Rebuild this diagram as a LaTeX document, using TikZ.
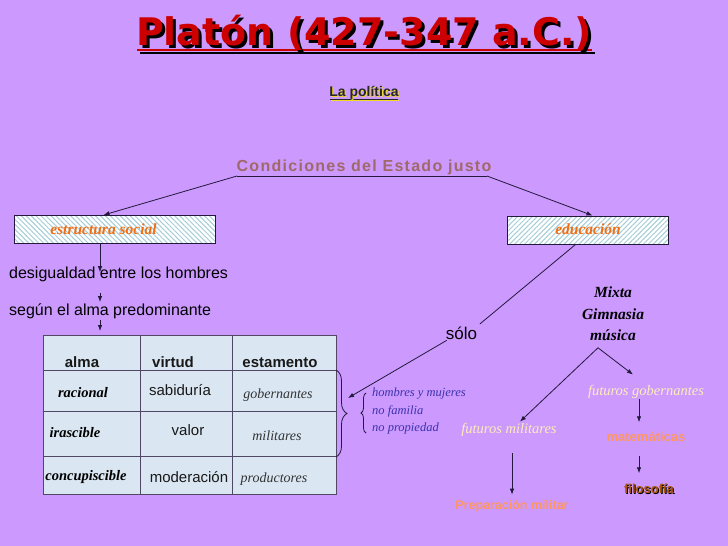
\documentclass[tikz,border=0pt]{standalone}
\usepackage{fontspec}
\setmainfont{Liberation Serif}
\setsansfont{Liberation Sans}
\newfontfamily\titlefont{DejaVu Sans}
\newfontfamily\spacedfont[LetterSpace=8]{Liberation Sans}
\usepackage{tikz}
\usetikzlibrary{arrows.meta,positioning,patterns.meta,decorations.pathreplacing,calc}
\usepackage{xcolor}
\definecolor{fondo}{RGB}{204,153,255}
\definecolor{rojo}{RGB}{204,0,0}
\definecolor{condic}{RGB}{160,105,105}
\definecolor{naranja}{RGB}{240,110,20}
\definecolor{azulosc}{RGB}{60,50,170}
\definecolor{crema}{RGB}{255,236,185}
\definecolor{salmon}{RGB}{255,150,95}
\definecolor{marron}{RGB}{175,85,10}
\definecolor{celda}{RGB}{218,230,242}
\definecolor{rayado}{RGB}{165,205,215}
\definecolor{borde}{RGB}{35,25,60}
\definecolor{amarillo}{RGB}{240,220,40}
\newcommand{\sz}[2][1.2]{\fontsize{#2}{#1\dimexpr #2pt\relax}\selectfont}
% texto con sombra desplazada
\newcommand{\sombreado}[3]{\makebox[0pt][l]{\kern#2\raisebox{-#2}{\color{#1}#3}}#3}

\begin{document}
\begin{tikzpicture}[x=1pt,y=-1pt,
txt/.style={inner sep=1pt,anchor=base},
caja/.style={rectangle,draw=borde,line width=0.8pt,minimum height=28pt,preaction={fill=white},pattern color=rayado},
arr/.style={-{Latex[length=6pt,width=4.5pt]},line width=0.8pt,draw=borde},
linea/.style={line width=0.8pt,draw=borde},
cab/.style={txt,font=\sffamily\bfseries\sz{15},text=black!90},
alma/.style={txt,font=\bfseries\itshape\sz{14.5},text=black},
virt/.style={txt,font=\sffamily\sz{15},text=black!90},
estam/.style={txt,font=\itshape\sz{14},text=black!80},
salida/.style={txt,font=\sffamily\bfseries\sz{13},text=salmon}
]
\fill[fondo] (0,0) rectangle (728,546);
\useasboundingbox (0,0) rectangle (728,546);

% titulo
\draw[line width=2.5pt,black] (140,53) -- (595,53);
\draw[line width=2.5pt,rojo] (137,50) -- (592,50);
\node[txt,font=\titlefont\bfseries\sz{38},text=rojo] (titulo) at (364,45) {\sombreado{black}{3pt}{Platón (427-347 a.C.)}};

\draw[line width=1pt,amarillo] (331,100) -- (399,100);
\draw[line width=0.8pt,black!85] (330,99) -- (398,99);
\node[txt,font=\sffamily\bfseries\sz{14},text=black!85] (politica) at (364,96) {\sombreado{amarillo}{1pt}{La política}};

% condiciones
\node[txt,font=\spacedfont\bfseries\sz{16},text=condic] (cond) at (364,171) {Condiciones del Estado justo};
\coordinate (ci) at (237,176);
\coordinate (cd) at (487,176);
\draw[linea] (ci) -- (cd);

\node[caja,minimum width=201pt,pattern={Lines[angle=-45,distance=3.5pt,line width=1pt]}] (estr) at (114.5,229.5) {};
\node[txt,font=\bfseries\itshape\sz{15.5},text=naranja] (estrtxt) at (103.5,234) {estructura social};
\node[caja,minimum width=161pt,pattern={Lines[angle=45,distance=3.5pt,line width=1pt]}] (educ) at (587.5,230) {};
\node[txt,font=\bfseries\itshape\sz{15.5},text=naranja] (eductxt) at (588,234) {educación};

\draw[arr] (ci) -- ([xshift=-11pt]estr.north);
\draw[arr] (cd) -- ([xshift=5pt]educ.north);

% estructura social
\node[txt,anchor=base west,font=\sffamily\sz{16}] (desig) at (8,278) {desigualdad entre los hombres};
\node[txt,anchor=base west,font=\sffamily\sz{16}] (segun) at (8,315) {según el alma predominante};
\coordinate (eje) at (100,0);
\draw[arr,shorten >=-7pt] (eje |- estr.south) -- (eje |- desig.north);
\draw[arr,shorten <=10pt] (eje |- desig.south) -- (eje |- segun.north);
\draw[arr,shorten >=4pt] (eje |- segun.south) -- (eje |- 0,335);

% tabla
\node[draw=borde!80,line width=0.8pt,fill=celda,minimum width=293pt,minimum height=159pt,inner sep=0pt] (tab) at (189.5,414.5) {};
\foreach \x in {140,232}
  \draw[borde!80,line width=0.8pt] (\x,335) -- (\x,494);
\foreach \y in {370,411,456}
  \draw[borde!80,line width=0.8pt] (43,\y) -- (336,\y);

\node[cab] at (82,367) {alma};
\node[cab] at (173,367) {virtud};
\node[cab] at (280,367) {estamento};
\node[alma] at (83,397) {racional};
\node[alma] at (75,437) {irascible};
\node[alma] at (86,480) {concupiscible};
\node[virt] at (180,395) {sabiduría};
\node[virt] at (188,435) {valor};
\node[virt] at (189,482) {moderación};
\node[estam] at (278,398) {gobernantes};
\node[estam] at (277,440) {militares};
\node[estam] at (274,482) {productores};

\draw[linea,decorate,decoration={brace,amplitude=11pt}] (336,370) -- (336,457);
\coordinate (llave) at (348,398);

% educacion
\node[txt,font=\sffamily\sz{17}] (solo) at (461.5,339) {sólo};
\draw[linea,shorten >=2pt] ([xshift=-12pt]educ.south) -- (solo.north east);
\draw[arr] ([xshift=2pt]solo.south west) -- (llave);

\draw[linea,decorate,decoration={brace,amplitude=5pt}] (366,433) -- (366,393);
\node[inner sep=1pt,anchor=north west,align=left,font={\itshape\sz[1.4]{12.5}},text=azulosc] (hm) at (371,387) {hombres y mujeres\\no familia\\no propiedad};

\node[inner sep=1pt,anchor=north,align=center,font={\bfseries\itshape\sz[1.37]{15.5}}] (mixta) at (613,286) {Mixta\\Gimnasia\\música};
\coordinate (cima) at ($(mixta.south)+(-15,6)$);

\node[txt,font=\itshape\sz{14.5},text=crema] (fgob) at (646,395) {futuros gobernantes};
\node[txt,font=\itshape\sz{14.5},text=crema] (fmil) at (509,433) {futuros militares};
\draw[arr] (cima) -- ([xshift=11pt]fmil.north);
\draw[arr] (cima) -- ([xshift=-13pt,yshift=9pt]fgob.north);

\node[salida,font=\sffamily\bfseries\sz{12.5}] (prep) at (512,509) {Preparación militar};
\node[salida] (mate) at (646,441) {matemáticas};
\node[txt,font=\sffamily\bfseries\sz{13},text=marron] (filo) at (649,493) {\sombreado{black}{1pt}{filosofía}};

\draw[arr,shorten <=16pt,shorten >=4pt] (prep.north |- fmil.south) -- (prep.north);
\coordinate (eje2) at (639,0);
\draw[arr,shorten >=8pt] (eje2 |- fgob.south) -- (eje2 |- mate.north);
\draw[arr,shorten <=14pt,shorten >=9pt] (eje2 |- mate.south) -- (eje2 |- filo.north);
\end{tikzpicture}
\end{document}
